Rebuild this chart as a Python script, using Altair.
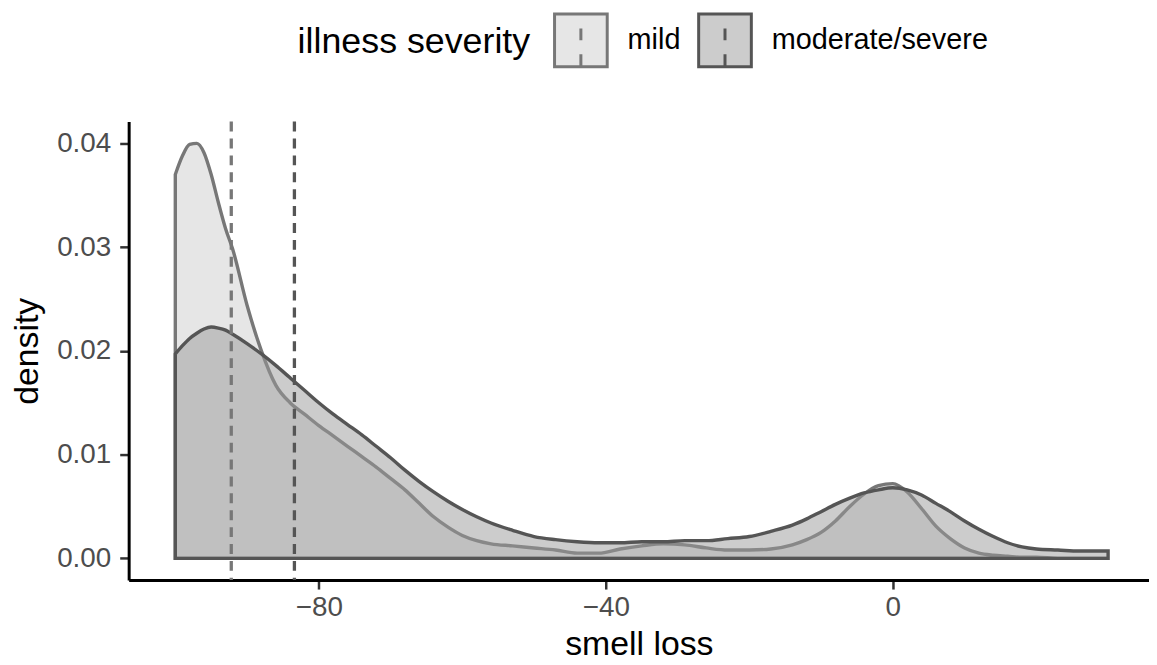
import altair as alt
import pandas as pd

# grid of smell-loss values (x) shared by both density curves
smell = [-100, -99, -98, -97, -96, -95, -94, -93, -92, -90, -88, -86, -84, -82, -80,
         -78, -76, -74, -72, -70, -68, -66, -64, -62, -60, -58, -56, -53, -50, -47,
         -44, -41, -38, -35, -32, -29, -26, -23, -20, -17, -14, -12, -10, -8, -6,
         -4, -2, 0, 2, 4, 6, 8, 10, 12, 14, 16, 18, 20, 23, 26, 30]

dens_mild = [0.0370, 0.0388, 0.0399, 0.0400, 0.0391, 0.0370, 0.0343, 0.0318, 0.0298,
             0.0244, 0.0200, 0.0167, 0.0150, 0.0139, 0.0128, 0.0118, 0.0108, 0.0098,
             0.0088, 0.0077, 0.0066, 0.0053, 0.0040, 0.0030, 0.0022, 0.0017, 0.0014,
             0.0012, 0.0010, 0.0008, 0.0005, 0.0005, 0.0009, 0.0012, 0.0014, 0.0013,
             0.0010, 0.0008, 0.0008, 0.0009, 0.0013, 0.0018, 0.0025, 0.0036, 0.0050,
             0.0062, 0.0070, 0.0072, 0.0064, 0.0048, 0.0031, 0.0019, 0.0010, 0.0005,
             0.0003, 0.0002, 0.0001, 0.0001, 0.0000, 0.0000, 0.0000]

dens_mod = [0.0197, 0.0205, 0.0212, 0.0217, 0.0221, 0.0223, 0.0222, 0.0220, 0.0216,
            0.0207, 0.0197, 0.0186, 0.0174, 0.0162, 0.0150, 0.0139, 0.0129, 0.0119,
            0.0108, 0.0097, 0.0085, 0.0074, 0.0064, 0.0055, 0.0047, 0.0040, 0.0034,
            0.0027, 0.0021, 0.0018, 0.0016, 0.0015, 0.0015, 0.0016, 0.0016, 0.0017,
            0.0017, 0.0019, 0.0021, 0.0026, 0.0032, 0.0038, 0.0045, 0.0052, 0.0058,
            0.0063, 0.0066, 0.0068, 0.0066, 0.0061, 0.0053, 0.0045, 0.0036, 0.0028,
            0.0021, 0.0015, 0.0011, 0.0009, 0.0008, 0.0007, 0.0007]

groups = ["mild", "moderate/severe"]
group_means = [-92.2, -83.4]

x_ticks = [-80, -40, 0]
y_ticks = [0.00, 0.01, 0.02, 0.03, 0.04]

# colours: area fill (drawn at 50% opacity), outline, and legend key fill
area_fill = ["#CDCDCD", "#999999"]
outline = ["#777777", "#555555"]
key_fill = ["#E6E6E6", "#CCCCCC"]

df = pd.concat([
    pd.DataFrame({"smell": smell, "density": dens_mild, "severity": groups[0]}),
    pd.DataFrame({"smell": smell, "density": dens_mod, "severity": groups[1]}),
])
means = pd.DataFrame({"severity": groups, "mean": group_means})

FONT = "Liberation Sans"

x_scale = alt.Scale(domain=[-106.5, 35.7], nice=False, zero=False)
y_scale = alt.Scale(domain=[-0.0021, 0.0421], nice=False, zero=False)

legend = alt.Legend(
    title="illness severity",
    orient="none",
    legendX=170,
    legendY=-110,
    direction="horizontal",
    titleOrient="left",
    titleFontSize=36,
    titleFont=FONT,
    titleFontWeight="normal",
    titleColor="black",
    titlePadding=22,
    titleBaseline="middle",
    titleLimit=600,
    labelFontSize=29,
    labelFont=FONT,
    labelColor="black",
    labelOffset=19,
    labelLimit=600,
    columnPadding=11,
    symbolType="M-1,-1H1V1H-1Z M0,-0.45V0 M0,0.53V1",
    symbolSize=2809,
    symbolStrokeWidth=3,
    symbolOpacity=1,
)

base = alt.Chart(df)

x_enc = alt.X("smell:Q", scale=x_scale, title="smell loss",
              axis=alt.Axis(values=x_ticks))
y_enc = alt.Y("density:Q", scale=y_scale, stack=None, title="density",
              axis=alt.Axis(values=y_ticks, format=".2f"))


def area_layer(i):
    return base.transform_filter(alt.datum.severity == groups[i]).mark_area(
        fill=area_fill[i], fillOpacity=0.5, stroke=outline[i], strokeWidth=3.4,
        interpolate="monotone", clip=True
    ).encode(x=x_enc, y=y_enc)


def mean_rule(i):
    return alt.Chart(means).transform_filter(alt.datum.severity == groups[i]).mark_rule(
        stroke=outline[i], strokeWidth=3.3, strokeDash=[10, 7]
    ).encode(x=alt.X("mean:Q", scale=x_scale))


# invisible carrier of the legend (keys drawn in the blended key colours)
legend_layer = alt.Chart(means).mark_square(opacity=0).encode(
    x=alt.X("mean:Q", scale=x_scale),
    y=alt.value(0),
    fill=alt.Fill("severity:N", scale=alt.Scale(domain=groups, range=key_fill), legend=legend),
    stroke=alt.Stroke("severity:N", scale=alt.Scale(domain=groups, range=outline), legend=legend),
)

chart = alt.layer(
    area_layer(0),
    area_layer(1),
    mean_rule(0),
    mean_rule(1),
    legend_layer,
).properties(
    width=1026.6,
    height=461.3,
    autosize=alt.AutoSizeParams(type="none"),
    padding={"left": 121.4, "top": 112.3, "right": 0, "bottom": 83},
).configure_view(
    stroke=None
).configure_axis(
    grid=False,
    domainColor="black",
    domainWidth=3,
    tickColor="#333333",
    tickWidth=2.5,
    tickSize=9,
    labelFont=FONT,
    labelFontSize=28,
    labelColor="#4D4D4D",
    labelPadding=5,
    titleFont=FONT,
    titleFontSize=34,
    titleFontWeight="normal",
    titleColor="black",
).configure_axisY(
    labelPadding=9,
    titlePadding=12,
).configure_axisX(
    titlePadding=6,
)

chart.save("out.html", embed_options={"renderer": "svg", "actions": False})
